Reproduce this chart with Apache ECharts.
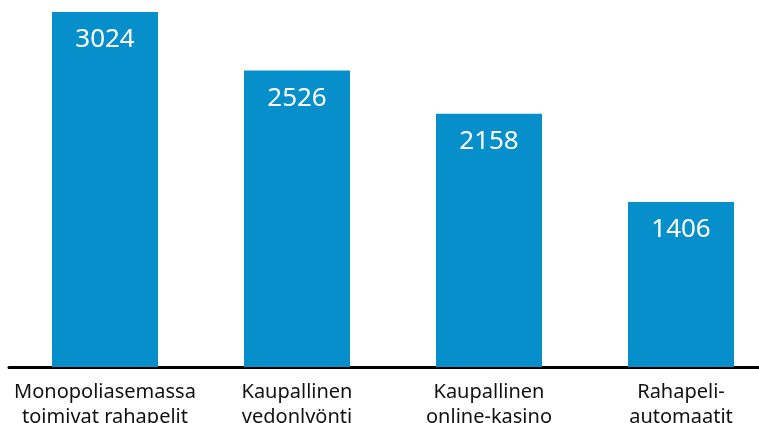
<!DOCTYPE html>
<html>
<head>
<meta charset="utf-8">
<script src="https://cdn.jsdelivr.net/npm/echarts@6/dist/echarts.min.js"></script>
<style>
    html, body {margin: 0; padding: 0; background: #fff;}
    #chart {width: 759px; height: 423px;}
</style>
</head>
<body>
<div id="chart"></div>
<script>
const categories = [
    "Monopoliasemassa\ntoimivat rahapelit",
    "Kaupallinen\nvedonlyönti",
    "Kaupallinen\nonline-kasino",
    "Rahapeli-\nautomaatit"
];
const values = [3024, 2526, 2158, 1406];

let option = {
    animation: false,
    grid: {
        left: 9,
        width: 768,
        top: 12,
        bottom: 56,
        containLabel: false,
        outerBoundsMode: 'none'
    },
    xAxis: {
        type: 'category',
        data: categories,
        axisTick: {show: false},
        axisLine: {
            lineStyle: {
                color: '#000',
                width: 3
            }
        },
        axisLabel: {
            interval: 0,
            margin: 13,
            color: '#111',
            fontSize: 20,
            lineHeight: 25,
            fontFamily: 'Noto Sans'
        }
    },
    yAxis: {
        type: 'value',
        min: 0,
        max: 3024,
        show: false,
        splitLine: {show: false}
    },
    series: [
        {
            type: 'bar',
            data: values,
            barWidth: 106,
            itemStyle: {color: '#078fcb'},
            label: {
                show: true,
                position: 'insideTop',
                distance: 15,
                color: '#fff',
                fontSize: 26,
                fontFamily: 'Noto Sans'
            }
        }
    ]
};
echarts.init(document.getElementById('chart')).setOption(option);
</script>
</body>
</html>
